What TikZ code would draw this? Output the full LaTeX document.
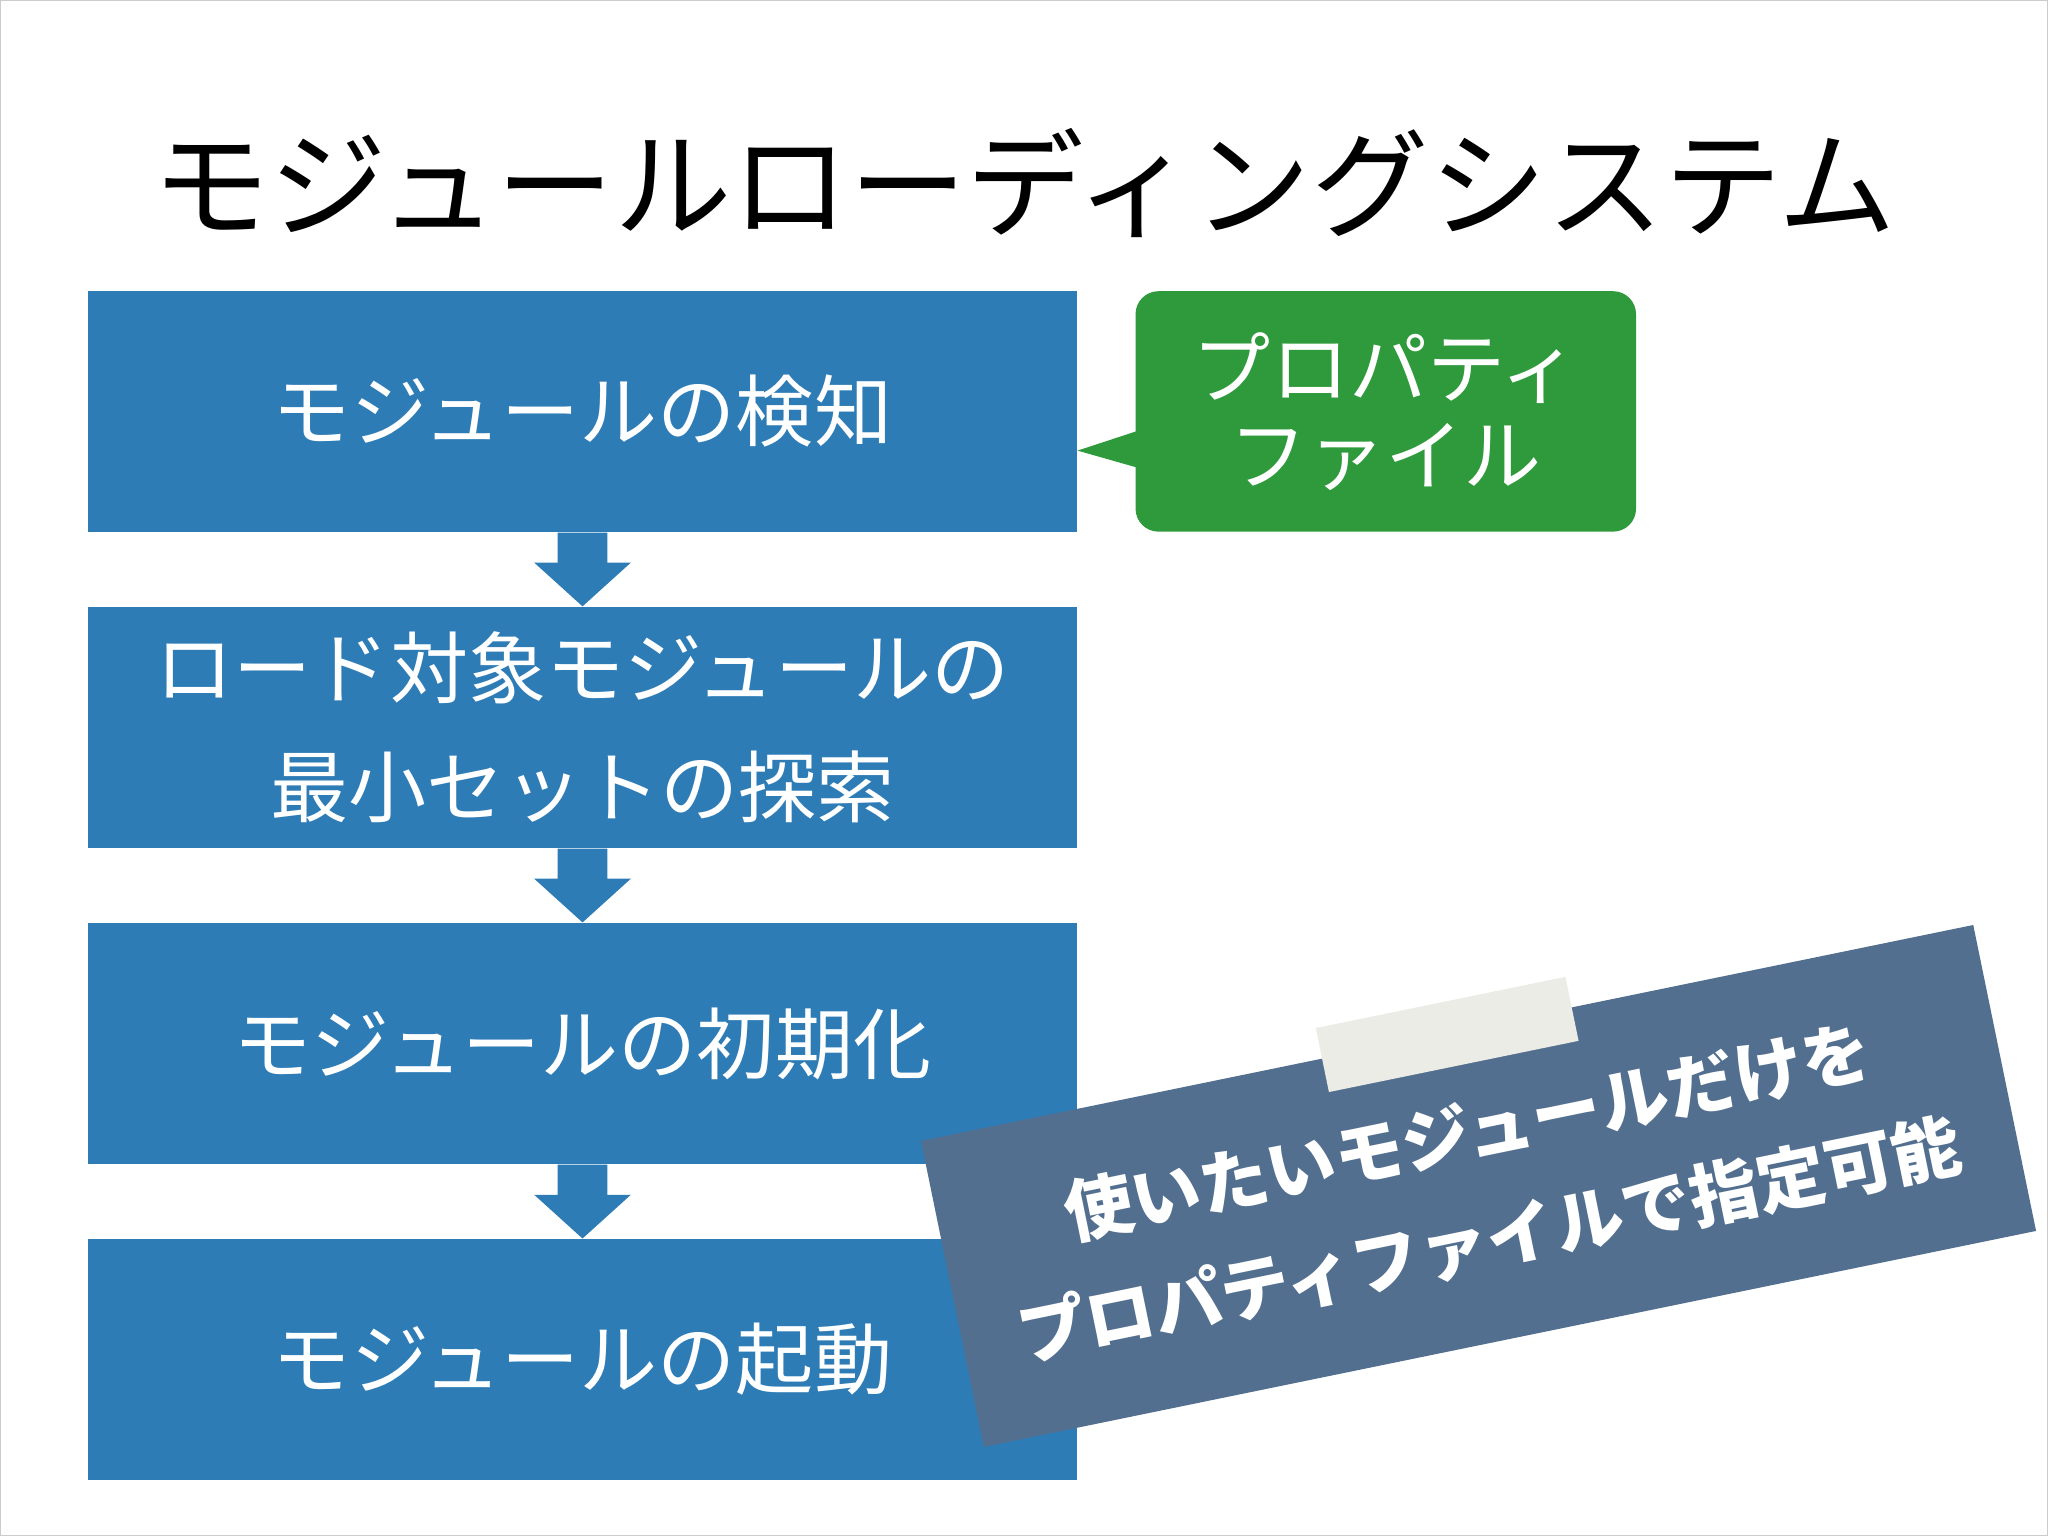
\documentclass[tikz,border=0pt]{standalone}
\usepackage{fontspec}
\usetikzlibrary{positioning,calc}
\newfontfamily\jp{Noto Sans CJK JP}
\definecolor{stepblue}{HTML}{2E7CB6}
\definecolor{propgreen}{HTML}{2F9A3B}
\definecolor{noteslate}{HTML}{536F8F}
\definecolor{tapegray}{HTML}{ECECE6}

\begin{document}
\begin{tikzpicture}[x=0.01cm,y=-0.01cm,
                    stage/.style={fill=stepblue,text=white,minimum width=7.57cm,
                      minimum height=1.84cm,align=center,font=\jp\fontsize{17}{26}\selectfont},
                    down/.style={fill=stepblue}]
  \useasboundingbox (0,0) rectangle (1568,1176);
  \draw[gray!40] (0,0) rectangle (1568,1176);

  \node[font=\jp\fontsize{25.6}{30}\selectfont] (title) at (784,140) {モジュールローディングシステム};

  \node[stage] (b1) at (446,315)  {モジュールの検知};
  \node[stage] (b2) at (446,557)  {ロード対象モジュールの\\最小セットの探索};
  \node[stage] (b3) at (446,799)  {モジュールの初期化};
  \node[stage] (b4) at (446,1041) {モジュールの起動};

  % down arrows between stages
  \foreach \a/\b in {b1/b2,b2/b3,b3/b4}
    \fill[down] ($(\a.south)+(-19,0)$) -- ($(\a.south)+(19,0)$) -- ($(\a.south)+(19,23)$)
      -- ($(\a.south)+(37,23)$) -- (\b.north) -- ($(\a.south)+(-37,23)$)
      -- ($(\a.south)+(-19,23)$) -- cycle;

  % callout
  \node[fill=propgreen,text=white,rounded corners=5pt,minimum width=3.83cm,
        minimum height=1.84cm,align=center,font=\jp\fontsize{17}{19}\selectfont]
        (prop) at (1061,315) {プロパティ\\ファイル};
  \coordinate (tip) at (825,345);
  \fill[propgreen] (tip) -- ($(prop.west)+(2,15)$) -- ($(prop.west)+(2,43)$) -- cycle;

  % sticky note
  \node[fill=noteslate,rotate=11.6,minimum width=8.22cm,minimum height=2.39cm,
        text width=7.8cm,text=white,align=center,inner sep=0pt,
        font=\jp\bfseries\fontsize{15}{24}\selectfont]
        (note) at (1132,908) {使いたいモジュールだけを\\プロパティファイルで指定可能};
  \node[fill=tapegray,rotate=11.6,minimum width=1.95cm,minimum height=0.5cm]
        (tape) at (1108,792) {};
\end{tikzpicture}
\end{document}
